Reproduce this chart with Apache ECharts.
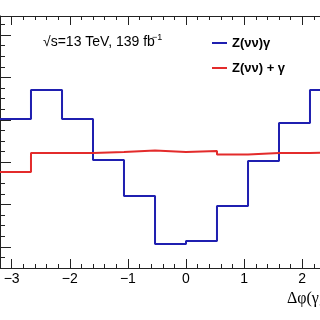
<!DOCTYPE html>
<html>
<head>
<meta charset="utf-8">
<script src="https://cdn.jsdelivr.net/npm/echarts@6/dist/echarts.min.js"></script>
<style>
  html, body { margin: 0; padding: 0; background: #fff; }
  #chart { width: 320px; height: 320px; }
</style>
</head>
<body>
<div id="chart"></div>
<script>
// bin edges of delta phi, 12 bins
var binEdges = [-3.2, -2.667, -2.133, -1.6, -1.067, -0.533, 0, 0.533, 1.067, 1.6, 2.133, 2.667, 3.2];
var zvvGamma = [0.0804, 0.0941, 0.0804, 0.0610, 0.0440, 0.0213, 0.0228, 0.0393, 0.0605, 0.0785, 0.0941, 0.0804];
var zvvPlusGamma = [0.0553, 0.0643, 0.0643, 0.0648, 0.0655, 0.0648, 0.0653, 0.0636, 0.0643, 0.0643, 0.0648, 0.0553];
var xMajorTicks = [-3, -2, -1, 0, 1, 2, 3];
var yMajorTicks = [0.02, 0.04, 0.06, 0.08, 0.10, 0.12];

function histData(vals) {
  // step line: one point per edge, last edge repeats last bin
  return binEdges.map(function (e, i) {
    return [e, vals[Math.min(i, vals.length - 1)]];
  });
}

var chart = echarts.init(document.getElementById('chart'), null, { renderer: 'canvas' });
var axisColor = '#222';
// frame runs past the right edge of the picture (cropped plot)
var gridBox = { left: 0, top: 16, width: 372, height: 252, containLabel: false, outerBoundsMode: 'none' };

var option = {
  backgroundColor: '#ffffff',
  animation: false,
  grid: [
    Object.assign({}, gridBox),
    Object.assign({}, gridBox)
  ],
  legend: {
    orient: 'vertical',
    left: 212,
    top: 35,
    padding: 0,
    itemGap: 9,
    itemWidth: 15,
    itemHeight: 2,
    icon: 'rect',
    data: ['Z(νν)γ', 'Z(νν) + γ'],
    textStyle: {
      color: '#000',
      fontSize: 13,
      fontWeight: 'bold',
      lineHeight: 16,
      fontFamily: 'Liberation Sans, Arial, sans-serif'
    }
  },
  xAxis: [
    // minor ticks + frame, bottom
    {
      type: 'value', gridIndex: 0, position: 'bottom',
      min: -3.2, max: 3.2, interval: 0.2,
      axisLine: { show: true, onZero: false, lineStyle: { color: axisColor, width: 1 } },
      axisTick: { show: true, inside: true, length: 4, lineStyle: { color: axisColor } },
      axisLabel: { show: false },
      splitLine: { show: false }
    },
    // minor ticks + frame, top
    {
      type: 'value', gridIndex: 0, position: 'top',
      min: -3.2, max: 3.2, interval: 0.2,
      axisLine: { show: true, onZero: false, lineStyle: { color: axisColor, width: 1 } },
      axisTick: { show: true, inside: true, length: 4, lineStyle: { color: axisColor } },
      axisLabel: { show: false },
      splitLine: { show: false }
    },
    // major ticks + labels, bottom
    {
      type: 'value', gridIndex: 1, position: 'bottom',
      min: -3.2, max: 3.2,
      axisLine: { show: false, onZero: false },
      axisTick: { show: true, inside: true, length: 9, customValues: xMajorTicks, lineStyle: { color: axisColor } },
      axisLabel: {
        show: true, customValues: xMajorTicks, margin: 4,
        color: '#000', fontSize: 14, fontFamily: 'Liberation Sans, Arial, sans-serif',
        formatter: function (v) { return String(v).replace('-', '\u2212'); }
      },
      splitLine: { show: false }
    },
    // major ticks, top
    {
      type: 'value', gridIndex: 1, position: 'top',
      min: -3.2, max: 3.2,
      axisLine: { show: false, onZero: false },
      axisTick: { show: true, inside: true, length: 9, customValues: xMajorTicks, lineStyle: { color: axisColor } },
      axisLabel: { show: false },
      splitLine: { show: false }
    }
  ],
  yAxis: [
    {
      type: 'value', gridIndex: 0, position: 'left',
      min: 0.01, max: 0.129, interval: 0.005,
      axisLine: { show: true, onZero: false, lineStyle: { color: axisColor, width: 1 } },
      axisTick: { show: true, inside: true, length: 5, lineStyle: { color: axisColor } },
      axisLabel: { show: false },
      splitLine: { show: false }
    },
    {
      type: 'value', gridIndex: 1, position: 'left',
      min: 0.01, max: 0.129,
      axisLine: { show: false, onZero: false },
      axisTick: { show: true, inside: true, length: 11, customValues: yMajorTicks, lineStyle: { color: axisColor } },
      axisLabel: { show: false },
      splitLine: { show: false }
    }
  ],
  graphic: [
    {
      type: 'text', left: 43, top: 35,
      style: { text: '\u221As=13 TeV, 139 fb', fill: '#000', font: '14px "Liberation Sans", Arial, sans-serif' }
    },
    {
      type: 'text', left: 152, top: 33,
      style: { text: '\u22121', fill: '#000', font: '9px "Liberation Sans", Arial, sans-serif' }
    },
    {
      type: 'text', left: 287, top: 291,
      style: { text: '\u0394\u03C6(\u03B3,E_T^miss)', fill: '#000', font: '16px "Liberation Serif", "Times New Roman", serif' }
    }
  ],
  series: [
    {
      name: 'Z(νν)γ',
      type: 'line',
      xAxisIndex: 0, yAxisIndex: 0,
      step: 'end',
      symbol: 'none',
      lineStyle: { color: '#1f1fb0', width: 2 },
      itemStyle: { color: '#1f1fb0' },
      data: histData(zvvGamma)
    },
    {
      name: 'Z(νν) + γ',
      type: 'line',
      xAxisIndex: 0, yAxisIndex: 0,
      step: 'end',
      symbol: 'none',
      lineStyle: { color: '#e32b2b', width: 2 },
      itemStyle: { color: '#e32b2b' },
      data: histData(zvvPlusGamma)
    }
  ]
};

chart.setOption(option);
</script>
</body>
</html>
